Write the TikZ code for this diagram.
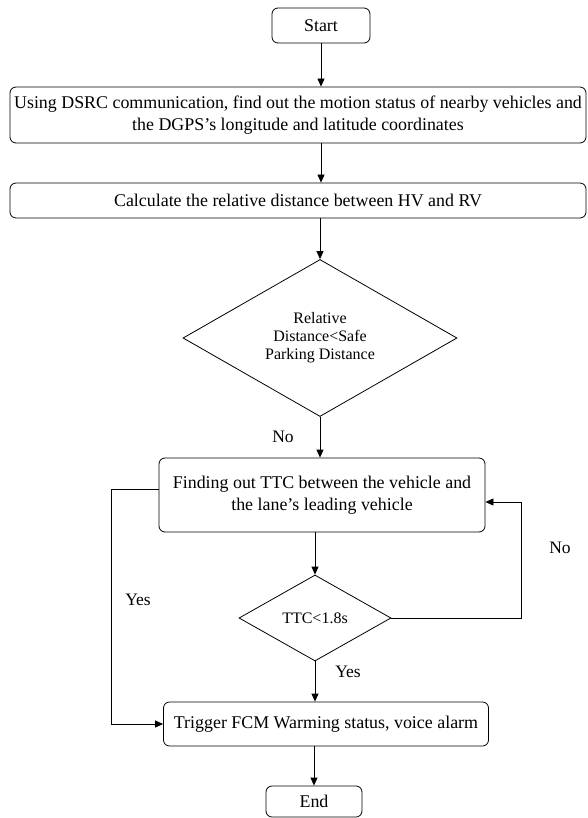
\documentclass[tikz,border=0pt]{standalone}
\usepackage{fontspec}
\setmainfont{Liberation Serif}
\usetikzlibrary{shapes.geometric,arrows.meta}
\begin{document}
\begin{tikzpicture}[x=1pt,y=-1pt,line width=0.8pt,
  box/.style={draw=black,rounded corners=6pt,align=center,inner sep=2pt,font=\fontsize{17.9}{22}\selectfont},
  cond/.style={draw=black,diamond,shape aspect=1.75,align=center,inner sep=0pt,font=\fontsize{16}{18}\selectfont},
  lbl/.style={font=\fontsize{17.5}{20}\selectfont},
  arr/.style={-{Triangle[length=8pt,width=7pt]}}]
\useasboundingbox (0,0) rectangle (588,818);
\node[box,minimum width=98pt,minimum height=35pt] (start) at (321,25.5) {Start};
\node[box,minimum width=576pt,minimum height=56pt] (dsrc) at (298,115) {Using DSRC communication, find out the motion status of nearby vehicles and\\the DGPS's longitude and latitude coordinates};
\node[box,minimum width=576pt,minimum height=35pt] (calc) at (298,200.5) {Calculate the relative distance between HV and RV};
\node[cond,minimum width=274pt,minimum height=157pt] (rd) at (320,338) {Relative\\Distance<Safe\\Parking Distance};
\node[box,minimum width=326pt,minimum height=74pt] (ttcbox) at (322,495) {Finding out TTC between the vehicle and\\the lane's leading vehicle};
\node[cond,minimum width=152pt,minimum height=86pt] (ttc) at (315,618) {TTC<1.8s};
\node[box,minimum width=325pt,minimum height=44pt] (trig) at (326,724) {Trigger FCM Warming status, voice alarm};
\node[box,minimum width=96pt,minimum height=31pt] (stop) at (314,801.5) {End};
\node[lbl] (rdno) at (283,437) {No};
\node[lbl] (ttcyes) at (348,672) {Yes};
\node[lbl] (leftyes) at (138,600) {Yes};
\node[lbl] (ttcno) at (560,548) {No};
\draw[arr] (start.south) -- (start.south |- dsrc.north);
\draw[arr] (dsrc.south -| start.south) -- (calc.north -| start.south);
\draw[arr] (calc.south -| rd.north) -- (rd.north);
\draw[arr] (rd.south) -- (rd.south |- ttcbox.north);
\draw[arr] (ttcbox.south -| ttc.north) -- (ttc.north);
\draw[arr] (ttc.south) -- (ttc.south |- trig.north);
\draw[arr] (trig.south -| stop.north) -- (stop.north);
\draw[arr] ([yshift=6pt]ttcbox.west) -- ++(-47,0) |- (trig.west);
\draw[arr] (ttc.east) -- ++(130,0) |- ([yshift=-7pt]ttcbox.east);
\end{tikzpicture}
\end{document}
